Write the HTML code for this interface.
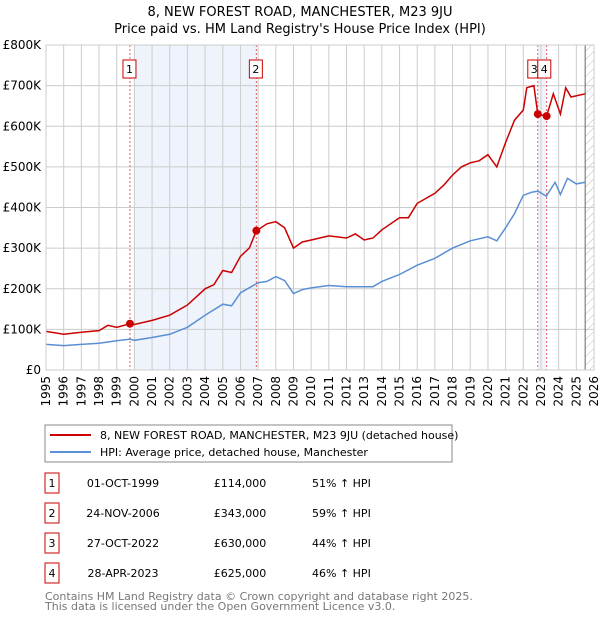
<!DOCTYPE html>
<html><head><meta charset="utf-8"><style>
body{margin:0;background:#fff;font-family:"Liberation Sans","DejaVu Sans",sans-serif;}
svg text{font-family:"DejaVu Sans","Liberation Sans",sans-serif;}
</style></head><body>
<svg id="c" width="600" height="620" xmlns="http://www.w3.org/2000/svg">
<defs><pattern id="hatch" width="6" height="6" patternUnits="userSpaceOnUse" patternTransform="rotate(45)"><line x1="0" y1="0" x2="0" y2="6" stroke="#bbb" stroke-width="1"/></pattern></defs>
<text x="300" y="16" text-anchor="middle" font-size="13">8, NEW FOREST ROAD, MANCHESTER, M23 9JU</text>
<text x="300" y="33" text-anchor="middle" font-size="13">Price paid vs. HM Land Registry's House Price Index (HPI)</text>
<g id="plot"></g>
<g>
<rect x="45" y="425" width="407" height="37" fill="#fff" stroke="#888"/>
<line x1="50" y1="435" x2="91" y2="435" stroke="#cc0000" stroke-width="2"/>
<text x="100" y="439" font-size="11">8, NEW FOREST ROAD, MANCHESTER, M23 9JU (detached house)</text>
<line x1="50" y1="452" x2="91" y2="452" stroke="#5b8fd4" stroke-width="2"/>
<text x="100" y="456" font-size="11">HPI: Average price, detached house, Manchester</text>
</g>
<g id="table" font-size="11"></g>
<text x="45" y="600" font-size="11" fill="#777">Contains HM Land Registry data © Crown copyright and database right 2025.</text>
<text x="45" y="610" font-size="11" fill="#777">This data is licensed under the Open Government Licence v3.0.</text>
</svg>
<script>
const yTicks=[0,100,200,300,400,500,600,700,800];
const yTickLabels=["£0","£100K","£200K","£300K","£400K","£500K","£600K","£700K","£800K"];
const years=[1995,1996,1997,1998,1999,2000,2001,2002,2003,2004,2005,2006,2007,2008,2009,2010,2011,2012,2013,2014,2015,2016,2017,2018,2019,2020,2021,2022,2023,2024,2025,2026];
const hpiT=[1995,1996,1997,1998,1999,1999.75,2000,2001,2002,2003,2004,2005,2005.5,2006,2007,2007.5,2008,2008.5,2009,2009.5,2010,2011,2012,2013,2013.5,2014,2015,2016,2017,2018,2019,2020,2020.5,2021,2021.5,2022,2022.5,2022.83,2023.3,2023.8,2024.1,2024.5,2025,2025.5];
const hpiV=[63,60,63,66,72,76,73,80,88,105,135,162,158,190,215,218,230,220,188,198,202,208,205,205,205,218,235,258,275,300,318,328,318,350,385,430,438,440,428,462,432,472,458,462];
const redT=[1995,1996,1997,1998,1998.5,1999,1999.75,2000,2001,2002,2003,2004,2004.5,2005,2005.5,2006,2006.5,2006.9,2007.5,2008,2008.5,2009,2009.5,2010,2011,2012,2012.5,2013,2013.5,2014,2015,2015.5,2016,2017,2017.5,2018,2018.5,2019,2019.5,2020,2020.5,2021,2021.5,2022,2022.2,2022.6,2022.82,2023.32,2023.7,2024.1,2024.4,2024.7,2025.5];
const redV=[95,88,93,97,110,105,114,112,122,135,160,200,210,245,240,280,300,343,360,365,350,300,315,320,330,325,335,320,325,345,375,375,410,435,455,480,500,510,515,530,500,560,615,640,695,700,630,625,680,630,695,672,680];
const saleT=[1999.75,2006.9,2022.82,2023.32];
const saleV=[114,343,630,625];
const saleLabels=["1","2","3","4"];
const saleDates=["01-OCT-1999","24-NOV-2006","27-OCT-2022","28-APR-2023"];
const salePrices=["£114,000","£343,000","£630,000","£625,000"];
const salePct=["51% ↑ HPI","59% ↑ HPI","44% ↑ HPI","46% ↑ HPI"];
const NS="http://www.w3.org/2000/svg";
const X0=46,X1=594,Y0=370,Y1=45;
const x=t=>X0+(t-1995)/(2026-1995)*(X1-X0);
const y=v=>Y0-v/800*(Y0-Y1);
const plot=document.getElementById('plot');
function mk(tag,attrs,parent){const e=document.createElementNS(NS,tag);for(const k in attrs)e.setAttribute(k,attrs[k]);(parent||plot).appendChild(e);return e;}
let e;
e=mk('rect',{x:x(2000),y:Y1,width:x(saleT[1])-x(2000),height:Y0-Y1,fill:'#eef3fc'});


e=mk('rect',{x:x(saleT[2]),y:Y1,width:x(saleT[3])-x(saleT[2]),height:Y0-Y1,fill:'#eef3fc'});


e=mk('rect',{x:x(2025.5),y:Y1,width:X1-x(2025.5),height:Y0-Y1,fill:'url(#hatch)'});


years.forEach(t=>{e=mk('line',{x1:x(t),x2:x(t),y1:Y1,y2:Y0,stroke:'#ccc','stroke-width':1});


e=mk('text',{x:0,y:0,'font-size':12,'text-anchor':'end',transform:`translate(${x(t)+4},${Y0+6}) rotate(-90)`});e.textContent=t;

});
yTicks.forEach((v,i)=>{e=mk('line',{x1:X0,x2:X1,y1:y(v),y2:y(v),stroke:'#ccc','stroke-width':1});


e=mk('text',{x:X0-5,y:y(v)+4,'font-size':12,'text-anchor':'end'});e.textContent=yTickLabels[i];

});
e=mk('line',{x1:x(2025.5),x2:x(2025.5),y1:Y1,y2:Y0,stroke:'#666'});


saleT.forEach((t,i)=>{e=mk('line',{x1:x(t),x2:x(t),y1:Y1,y2:Y0,stroke:'#e06060','stroke-dasharray':'2,2'});

});
e=mk('path',{d:hpiT.map((t,i)=>(i?'L':'M')+x(t).toFixed(1)+','+y(hpiV[i]).toFixed(1)).join(''),fill:'none',stroke:'#5b8fd4','stroke-width':1.5});


e=mk('path',{d:redT.map((t,i)=>(i?'L':'M')+x(t).toFixed(1)+','+y(redV[i]).toFixed(1)).join(''),fill:'none',stroke:'#cc0000','stroke-width':1.5});


saleT.forEach((t,i)=>{e=mk('circle',{cx:x(t),cy:y(saleV[i]),r:4,fill:'#cc0000'});


const bx=i==2?x(t)-10:i==3?x(saleT[2]):x(t)-7;
e=mk('rect',{x:bx,y:60,width:i==2?10:13,height:18,fill:'#fff',stroke:'#cc0000'});


e=mk('text',{x:bx+6.5,y:73,'font-size':11,'text-anchor':'middle'});e.textContent=saleLabels[i];

});
e=mk('rect',{x:X0,y:Y1,width:X1-X0,height:Y0-Y1,fill:'none',stroke:'#ccc'});


const tb=document.getElementById('table');
const rowY=[483,513,543,573];
saleLabels.forEach((l,i)=>{const cy=rowY[i];
e=mk('rect',{x:45,y:cy-10,width:14,height:20,fill:'#fff',stroke:'#cc0000'},tb);


e=mk('text',{x:52,y:cy+4,'text-anchor':'middle'},tb);e.textContent=l;


e=mk('text',{x:123,y:cy+4,'text-anchor':'middle'},tb);e.textContent=saleDates[i];


e=mk('text',{x:240,y:cy+4,'text-anchor':'middle'},tb);e.textContent=salePrices[i];


e=mk('text',{x:312,y:cy+4},tb);e.textContent=salePct[i];

});
</script>
</body></html>
